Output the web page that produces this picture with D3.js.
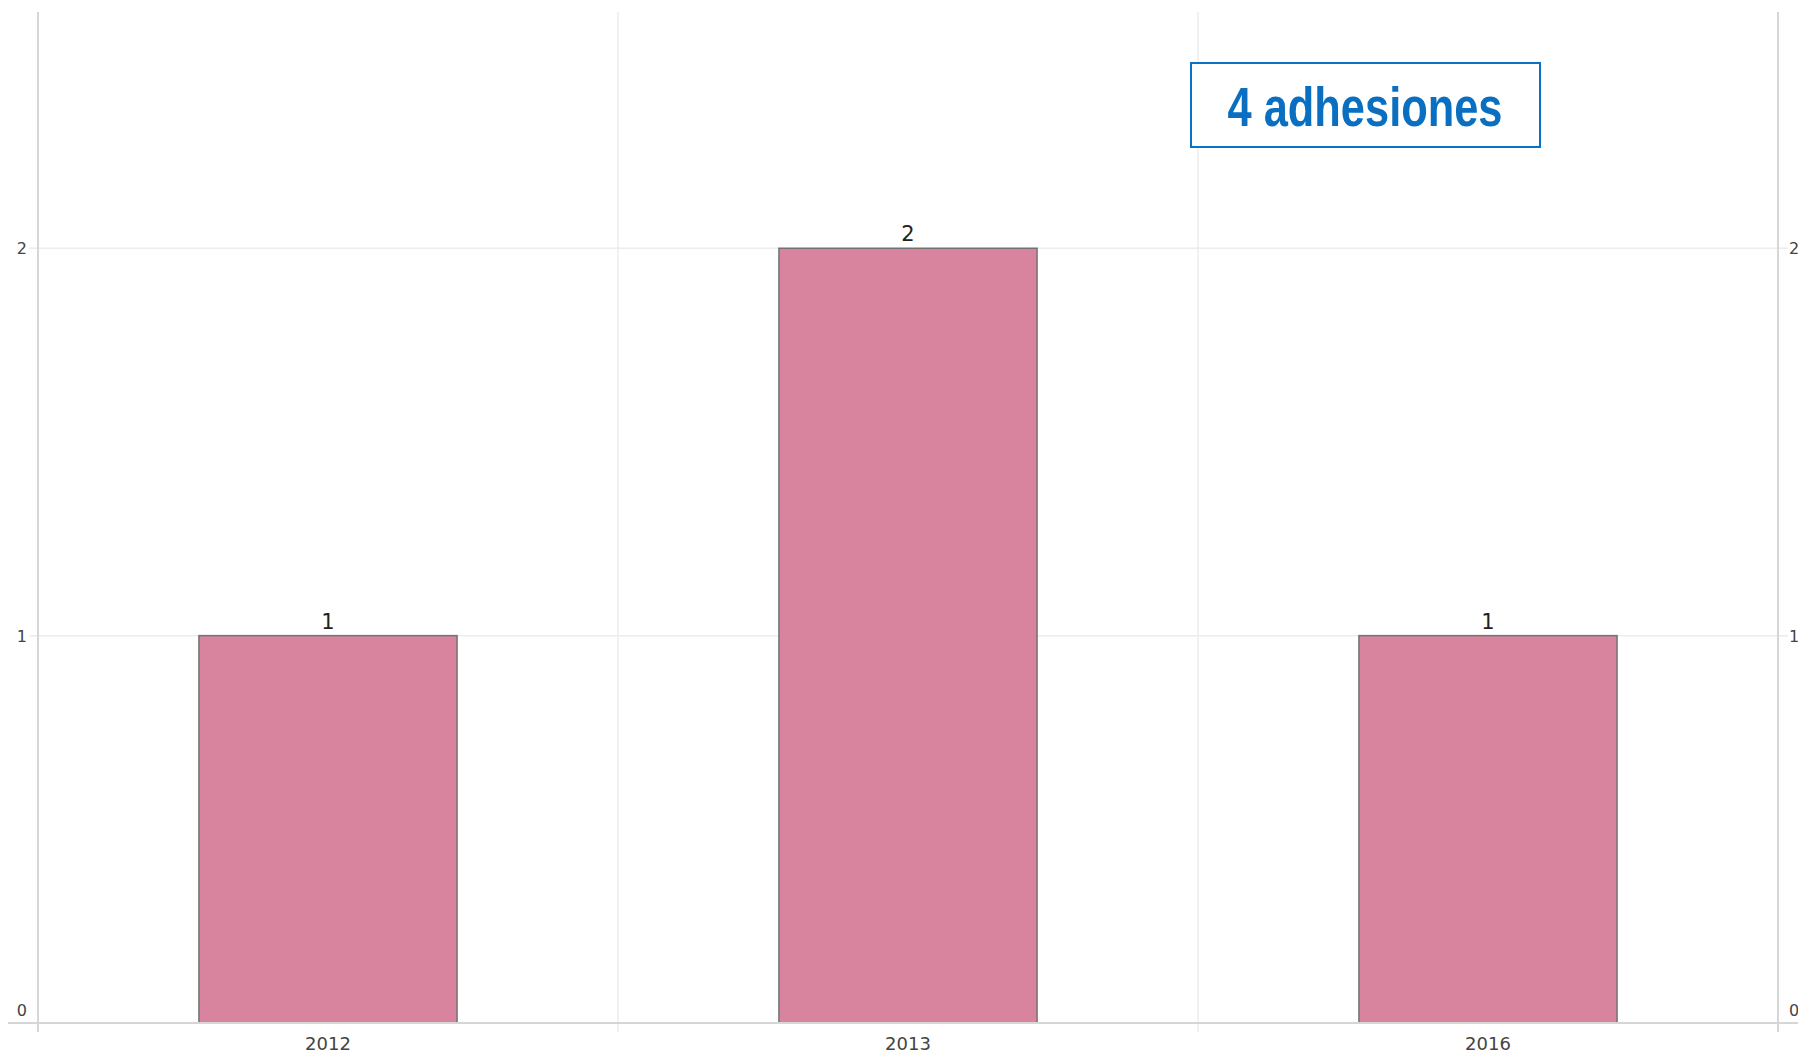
<!DOCTYPE html>
<html>
<head>
<meta charset="utf-8">
<script src="https://cdn.jsdelivr.net/npm/d3@7"></script>
<style>
  html, body { margin: 0; padding: 0; background: #ffffff; overflow: hidden; }
  svg { display: block; }
</style>
</head>
<body>
<svg id="chart"></svg>
<script>
// Adhesiones por año
const years = ["2012", "2013", "2016"];
const counts = [1, 2, 1];
const yTicks = [0, 1, 2];
const totalLabel = "4 adhesiones";

const W = 1798, H = 1055;
const plot = { left: 38, right: 1778, top: 12, bottom: 1023 };

const svg = d3.select("#chart").attr("width", W).attr("height", H);

const x = d3.scaleBand().domain(years).range([plot.left, plot.right]).padding(0);
const y = d3.scaleLinear().domain([0, 2.61]).range([plot.bottom, plot.top]);

const gridColor = "#ececec";
const axisColor = "#d6d6d6";
const tickFont = "'DejaVu Sans', Verdana, sans-serif";

// horizontal gridlines
svg.append("g").selectAll("line")
  .data(yTicks.filter(d => d > 0))
  .join("line")
  .attr("x1", plot.left - 9).attr("x2", plot.right + 10)
  .attr("y1", d => y(d)).attr("y2", d => y(d))
  .attr("stroke", gridColor).attr("stroke-width", 1.5);

// vertical dividers between year bands
svg.append("g").selectAll("line")
  .data(years.slice(1))
  .join("line")
  .attr("x1", d => x(d)).attr("x2", d => x(d))
  .attr("y1", plot.top).attr("y2", plot.bottom + 9)
  .attr("stroke", gridColor).attr("stroke-width", 1.5);

// axis frame lines
svg.append("line")
  .attr("x1", plot.left).attr("x2", plot.left)
  .attr("y1", plot.top).attr("y2", plot.bottom + 9)
  .attr("stroke", axisColor).attr("stroke-width", 2);
svg.append("line")
  .attr("x1", plot.right).attr("x2", plot.right)
  .attr("y1", plot.top).attr("y2", plot.bottom + 9)
  .attr("stroke", axisColor).attr("stroke-width", 2);

// bars
const barW = x.bandwidth() * 0.445;
const data = years.map((yr, i) => ({ year: yr, value: counts[i] }));
svg.append("g").selectAll("rect")
  .data(data)
  .join("rect")
  .attr("x", d => x(d.year) + (x.bandwidth() - barW) / 2)
  .attr("y", d => y(d.value))
  .attr("width", barW)
  .attr("height", d => y(0) - y(d.value))
  .attr("fill", "#d8849f")
  .attr("stroke", "#727272")
  .attr("stroke-width", 1.5);

// baseline
svg.append("line")
  .attr("x1", 8).attr("x2", W)
  .attr("y1", plot.bottom).attr("y2", plot.bottom)
  .attr("stroke", axisColor).attr("stroke-width", 2);

// value labels
svg.append("g").selectAll("text")
  .data(data)
  .join("text")
  .attr("x", d => x(d.year) + x.bandwidth() / 2)
  .attr("y", d => y(d.value) - 7)
  .attr("text-anchor", "middle")
  .attr("font-family", tickFont)
  .attr("font-size", 21)
  .attr("fill", "#222")
  .text(d => d.value);

// left axis labels
const labelY = d => d === 0 ? y(d) - 7 : y(d) + 6;
svg.append("g").selectAll("text")
  .data(yTicks)
  .join("text")
  .attr("x", 27)
  .attr("y", labelY)
  .attr("text-anchor", "end")
  .attr("font-family", tickFont)
  .attr("font-size", 16)
  .attr("fill", "#444")
  .text(d => d);

// right axis labels
svg.append("g").selectAll("text")
  .data(yTicks)
  .join("text")
  .attr("x", 1789)
  .attr("y", labelY)
  .attr("text-anchor", "start")
  .attr("font-family", tickFont)
  .attr("font-size", 16)
  .attr("fill", "#444")
  .text(d => d);

// year labels
svg.append("g").selectAll("text")
  .data(years)
  .join("text")
  .attr("x", d => x(d) + x.bandwidth() / 2)
  .attr("y", 1050)
  .attr("text-anchor", "middle")
  .attr("font-family", tickFont)
  .attr("font-size", 18)
  .attr("fill", "#444")
  .text(d => d);

// total annotation box
const box = svg.append("g");
box.append("rect")
  .attr("x", 1191).attr("y", 63)
  .attr("width", 349).attr("height", 84)
  .attr("fill", "#ffffff")
  .attr("stroke", "#0a72c4").attr("stroke-width", 2);
box.append("text")
  .attr("x", 1365).attr("y", 126)
  .attr("text-anchor", "middle")
  .attr("font-family", "'Liberation Sans Narrow', 'Arial Narrow', 'Liberation Sans', Arial, sans-serif")
  .attr("font-weight", "bold")
  .attr("font-size", 55)
  .attr("fill", "#0a6fc0")
  .attr("textLength", 275)
  .attr("lengthAdjust", "spacingAndGlyphs")
  .text(totalLabel);
</script>
</body>
</html>
